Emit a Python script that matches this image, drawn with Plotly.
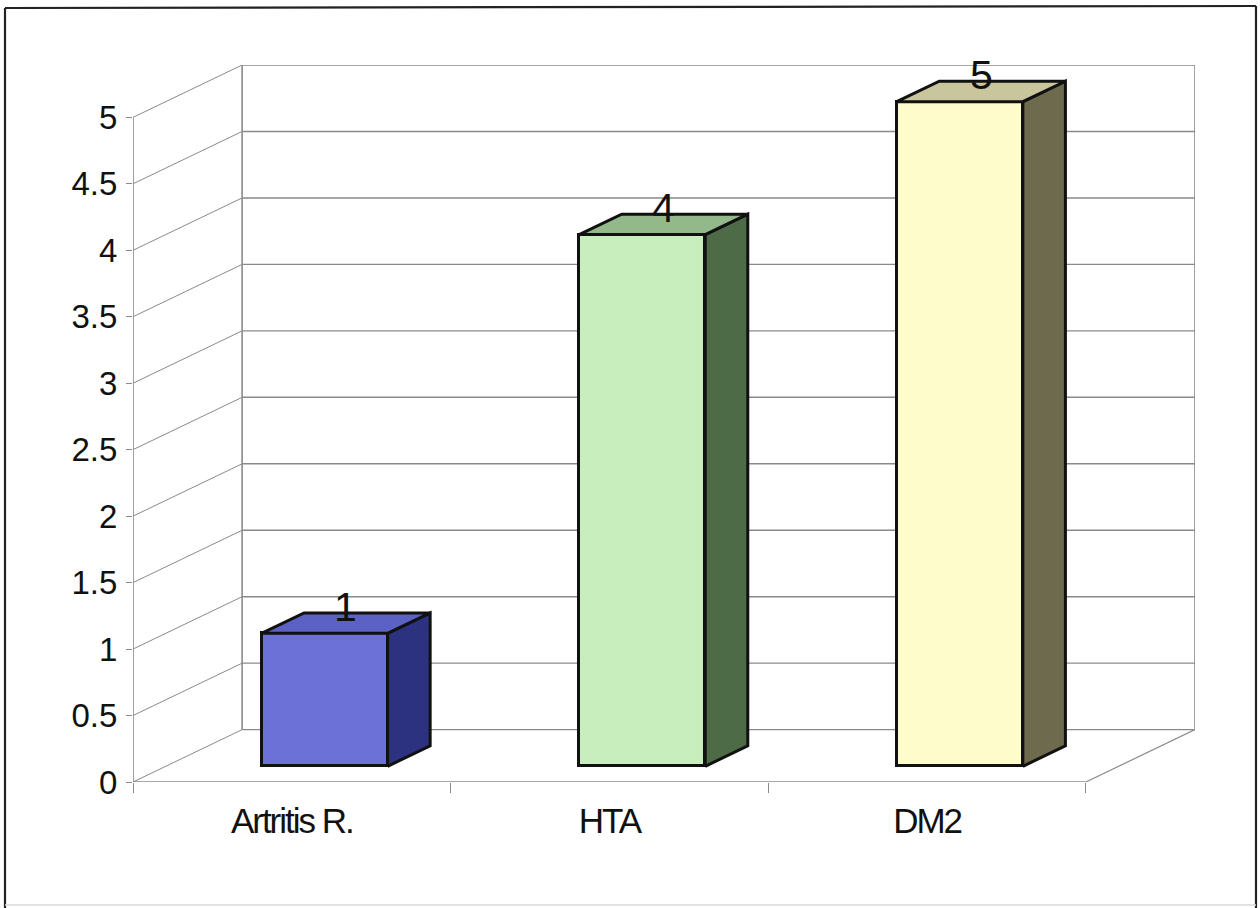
import plotly.graph_objects as go

# ---- data ----
categories = ["Artritis R.", "HTA", "DM2"]
values = [1, 4, 5]
y_tickvals = [0, 0.5, 1, 1.5, 2, 2.5, 3, 3.5, 4, 4.5, 5]
y_ticktext = ["0", "0.5", "1", "1.5", "2", "2.5", "3", "3.5", "4", "4.5", "5"]

# ---- styling ----
front_colors = ["#6c71d8", "#c9eebd", "#fffccb"]
side_colors = ["#2c3180", "#4e6b48", "#6d6a4d"]
top_colors = ["#5c61c4", "#93b98b", "#c9c59c"]
wall_color = "#8a8a8a"
edge_color = "#111111"

# oblique projection: one full unit of depth moves DX category units right, DY value units up
DX = 0.3435
DY = 0.394
F0, F1 = 0.30, 0.69      # depth span of each column
BW = 0.397               # column width in category units

n = len(categories)
y_top = max(y_tickvals)
W_PX, H_PX = 1260, 908
M = dict(l=133, r=65, t=65, b=126)
plot_w = W_PX - M["l"] - M["r"]
plot_h = H_PX - M["t"] - M["b"]

fig = go.Figure()
shapes = []


def line(x0, y0, x1, y1, width=1.5, color=wall_color):
    shapes.append(dict(type="line", xref="x", yref="y", x0=x0, y0=y0, x1=x1, y1=y1,
                       line=dict(color=color, width=width), layer="below"))


# back wall and side wall gridlines
for v in y_tickvals:
    line(DX, v + DY, n + DX, v + DY, width=1.4)
    line(0, v, DX, v + DY, width=1.0)
# wall edges
line(DX, DY, DX, y_top + DY, width=1.6)
line(n + DX, DY, n + DX, y_top + DY, width=1.6)
line(0, 0, 0, y_top, width=1.6)
# floor
line(0, 0, n, 0, width=1.6)
line(n, 0, n + DX, DY, width=1.2)

# front faces of the columns
xc = [i + 0.5 + F0 * DX for i in range(n)]
base = F0 * DY
fig.add_trace(go.Bar(
    x=xc, y=values, base=[base] * n, width=BW,
    marker=dict(color=front_colors, line=dict(color=edge_color, width=3)),
    hoverinfo="skip", showlegend=False,
))

dxd = (F1 - F0) * DX
dyd = (F1 - F0) * DY
for i, v in enumerate(values):
    xl = xc[i] - BW / 2
    xr = xc[i] + BW / 2
    top = base + v
    # side face
    fig.add_trace(go.Scatter(
        x=[xr, xr, xr + dxd, xr + dxd, xr],
        y=[base, top, top + dyd, base + dyd, base],
        mode="lines", fill="toself", fillcolor=side_colors[i],
        line=dict(color=edge_color, width=3), hoverinfo="skip", showlegend=False,
    ))
    # top face
    fig.add_trace(go.Scatter(
        x=[xl, xr, xr + dxd, xl + dxd, xl],
        y=[top, top, top + dyd, top + dyd, top],
        mode="lines", fill="toself", fillcolor=top_colors[i],
        line=dict(color=edge_color, width=3), hoverinfo="skip", showlegend=False,
    ))
    fig.add_annotation(
        x=xc[i] + dxd / 2, y=top + dyd / 2, text=str(v), showarrow=False,
        yanchor="bottom", yshift=-9,
        font=dict(family="Liberation Sans, Arial, sans-serif", size=41, color="#111111"),
    )


# outer frame of the chart (pixel positions converted to paper units)
def px_x(p):
    return (p - M["l"]) / plot_w


def px_y(p):
    return (H_PX - M["b"] - p) / plot_h


frame = [((5, 8), (1256, 6), "#222222", 2.2),
         ((5, 8), (5, 908), "#222222", 2.2),
         ((1256, 6), (1256, 908), "#222222", 2.2),
         ((5, 905), (1256, 905), "#d8d8d8", 1.5)]
for (a, b, col, w) in frame:
    shapes.append(dict(type="line", xref="paper", yref="paper",
                       x0=px_x(a[0]), y0=px_y(a[1]), x1=px_x(b[0]), y1=px_y(b[1]),
                       line=dict(color=col, width=w)))

# category labels set tight, as in a condensed face
cat_text = ['<span style="letter-spacing:-2px">%s</span>' % c for c in categories]

fig.update_layout(
    width=W_PX, height=H_PX, margin=dict(**M, pad=0),
    paper_bgcolor="white", plot_bgcolor="white",
    shapes=shapes, showlegend=False, bargap=0,
    xaxis=dict(
        range=[0, n + DX], showgrid=False, zeroline=False, showline=False,
        tickvals=[i + 0.5 for i in range(n)], ticktext=cat_text,
        ticks="outside", ticklen=0, tickcolor="rgba(0,0,0,0)",
        tickfont=dict(family="Liberation Sans, Arial, sans-serif", size=35, color="#111111"),
        ticklabelstandoff=8,
        minor=dict(tickvals=list(range(n + 1)), ticks="outside", ticklen=10,
                   tickcolor=wall_color, tickwidth=1.4),
        fixedrange=True,
    ),
    yaxis=dict(
        range=[0, y_top + DY], showgrid=False, zeroline=False, showline=False,
        tickvals=y_tickvals, ticktext=y_ticktext,
        ticks="outside", ticklen=6, tickcolor=wall_color, tickwidth=1.4,
        tickfont=dict(family="Liberation Sans, Arial, sans-serif", size=33, color="#111111"),
        ticklabelstandoff=2,
        fixedrange=True,
    ),
)

fig.write_html("out.html")
